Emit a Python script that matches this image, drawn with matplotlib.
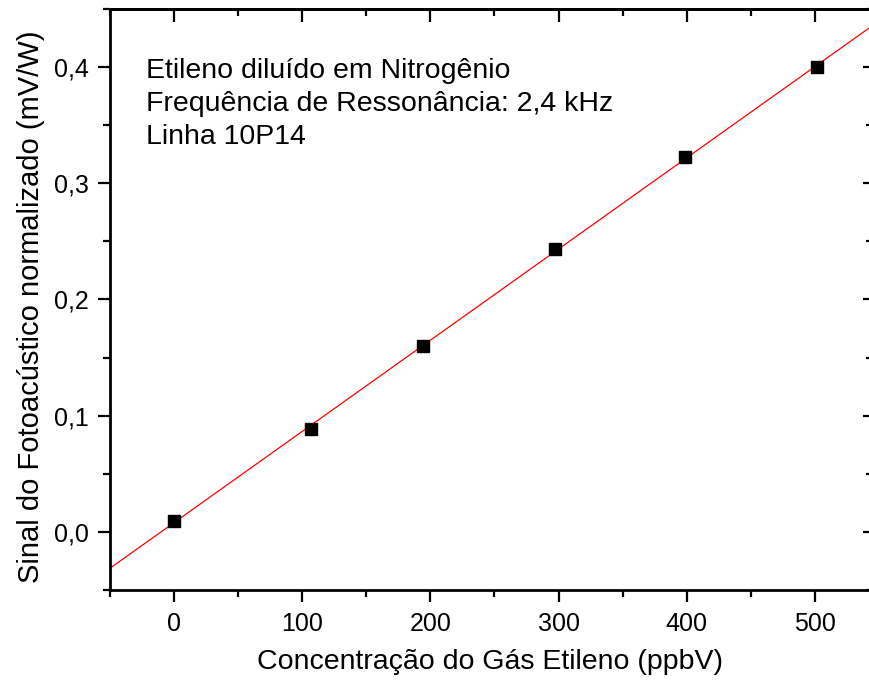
import numpy as np
import matplotlib
matplotlib.use("Agg")
import matplotlib.pyplot as plt
from matplotlib.ticker import MultipleLocator, FuncFormatter

plt.rcParams['font.family'] = ['Liberation Sans', 'DejaVu Sans']

# Concentração (ppbV) e sinal normalizado (mV/W)
concentracao = [0, 107, 194, 297, 399, 502]
sinal = [0.0095, 0.0886, 0.160, 0.2434, 0.323, 0.400]

# Ajuste linear
coef = np.polyfit(concentracao, sinal, 1)
x_fit = np.array([-50, 545])
y_fit = np.polyval(coef, x_fit)

fig = plt.figure(figsize=(8.7, 6.82), dpi=100)
ax = fig.add_axes([110 / 870, 1 - 590 / 682, 760 / 870, 581 / 682])

ax.plot(x_fit, y_fit, color='red', lw=0.9)
ax.plot(concentracao, sinal, 's', color='black', ms=8.5)

ax.set_xlim(-50, 543)
ax.set_ylim(-0.05, 0.45)

ax.xaxis.set_major_locator(MultipleLocator(100))
ax.xaxis.set_minor_locator(MultipleLocator(50))
ax.yaxis.set_major_locator(MultipleLocator(0.1))
ax.yaxis.set_minor_locator(MultipleLocator(0.05))
ax.yaxis.set_major_formatter(FuncFormatter(lambda v, p: f"{v:.1f}".replace('.', ',').replace('-0,0', '0,0')))

for s in ax.spines.values():
    s.set_linewidth(2.0)

ax.tick_params(which='both', direction='out', top=False, right=False, labelsize=18, width=1.6)
ax.tick_params(which='major', length=8.5, pad=7)
ax.tick_params(which='minor', length=5)

# ticks internos no topo e à direita
sec_x = ax.secondary_xaxis('top')
sec_x.xaxis.set_major_locator(MultipleLocator(100))
sec_x.xaxis.set_minor_locator(MultipleLocator(50))
sec_x.tick_params(which='both', direction='in', labeltop=False, width=1.6)
sec_x.tick_params(which='major', length=9)
sec_x.tick_params(which='minor', length=5)
sec_x.spines['top'].set_linewidth(2.0)
sec_y = ax.secondary_yaxis('right')
sec_y.yaxis.set_major_locator(MultipleLocator(0.1))
sec_y.yaxis.set_minor_locator(MultipleLocator(0.05))
sec_y.tick_params(which='both', direction='in', labelright=False, width=1.6)
sec_y.tick_params(which='major', length=5)
sec_y.tick_params(which='minor', length=3)

ax.set_xlabel('Concentração do Gás Etileno (ppbV)', fontsize=20.5, labelpad=10)
ax.set_ylabel('Sinal do Fotoacústico normalizado (mV/W)', fontsize=21)
ax.yaxis.set_label_coords(-0.0855, 0.488)

ax.text(0.047, 0.915, 'Etileno diluído em Nitrogênio\nFrequência de Ressonância: 2,4 kHz\nLinha 10P14',
        transform=ax.transAxes, fontsize=20.5, va='top', ha='left', linespacing=1.33)

fig.savefig('out.png', dpi=100)
